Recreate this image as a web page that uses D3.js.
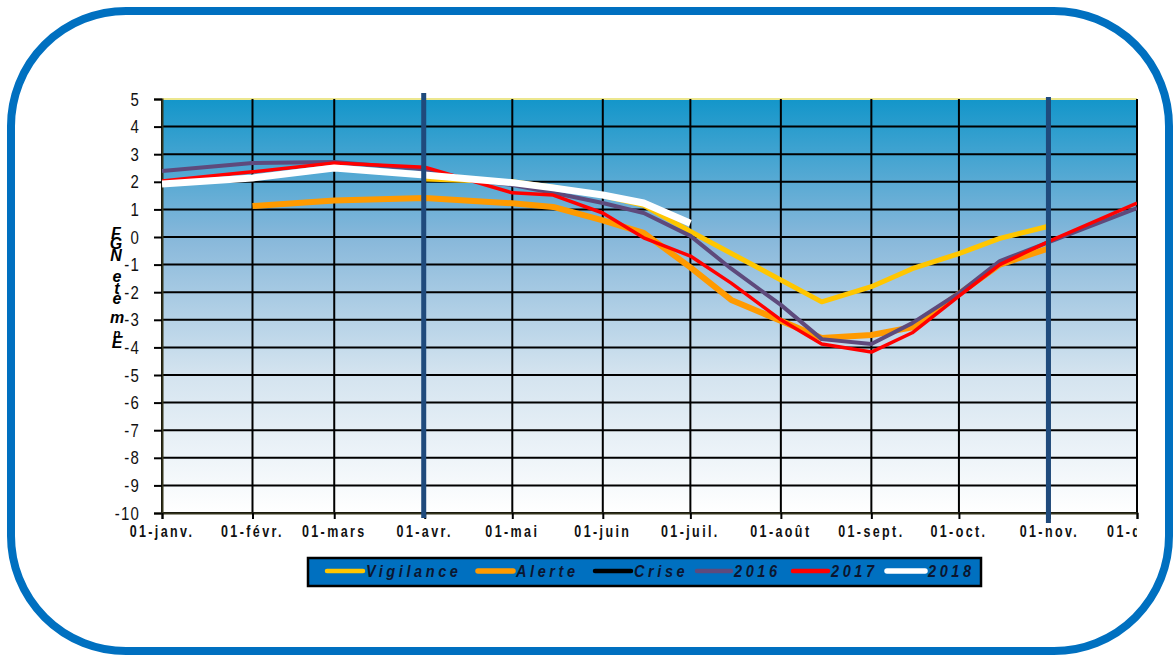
<!DOCTYPE html>
<html lang="fr">
<head>
<meta charset="UTF-8">
<script src="https://d3js.org/d3.v7.min.js"></script>
<title>Niveaux</title>
<style>
  body { margin: 0; background: #fff; }
  text { font-family: "Liberation Sans", Arial, sans-serif; }
</style>
</head>
<body>
<div id="container"></div>
<script>
// dates des mesures (année 2018, jour/mois)
var dates = ["01-01","02-01","03-01","04-01","04-15","05-01","05-15","06-01","06-15",
             "07-01","07-15","08-01","08-15","09-01","09-15","10-01","10-15","11-01","12-01"];

var vigilance = [null,null,null,2.1,null,2.0,1.8,1.5,1.15,0.2,null,null,-2.35,-1.8,-1.15,-0.6,-0.05,0.4,null];
var alerte    = [null,1.12,1.32,1.41,null,1.22,1.09,0.6,0.15,-1.1,-2.28,null,-3.66,-3.55,-3.27,null,-1.0,-0.4,null];
var crise     = [];
var s2016     = [2.39,2.68,2.72,2.45,2.1,1.88,1.6,1.23,0.87,0.04,-1.15,-2.46,-3.7,-3.88,-3.12,-2.03,-0.87,-0.18,1.05];
var s2017     = [2.03,2.36,2.68,2.53,null,1.6,1.52,0.87,-0.03,-0.69,-1.67,-3.0,-3.88,-4.17,-3.47,-2.14,-1.0,-0.15,1.23];
var s2018     = [1.92,2.14,2.5,2.25,null,1.97,1.78,1.52,1.23,0.5,null,null,null,null,null,null,null,null,null];

var monthTicks = ["01-01","02-01","03-01","04-01","05-01","06-01","07-01","08-01","09-01","10-01","11-01","12-01"];
var monthLabels = ["01-janv.","01-févr.","01-mars","01-avr.","01-mai","01-juin","01-juil.","01-août","01-sept.","01-oct.","01-nov.","01-déc."];
var yTicks = [5,4,3,2,1,0,-1,-2,-3,-4,-5,-6,-7,-8,-9,-10];
var markerDates = ["04-01","11-01"];
var yTitle = ["F","G","N","e","t","è","m","n","E"];

var series = [
  {name:"Vigilance", values:vigilance, color:"#ffc600", width:5},
  {name:"Alerte",    values:alerte,    color:"#ff9a00", width:6},
  {name:"Crise",     values:crise,     color:"#000000", width:4},
  {name:"2016",      values:s2016,     color:"#5e4a7c", width:4},
  {name:"2017",      values:s2017,     color:"#ff0000", width:3.5},
  {name:"2018",      values:s2018,     color:"#ffffff", width:7}
];

var width = 1173, height = 656;
var parse = d3.timeParse("%Y-%m-%d");
function dt(s){ return parse("2018-" + s); }

var svg = d3.select("#container").append("svg").attr("width", width).attr("height", height);

// cadre arrondi
svg.append("rect").attr("x",11).attr("y",11).attr("width",1158).attr("height",640)
   .attr("rx",115).attr("ry",115).attr("fill","#fff").attr("stroke","#0070c0").attr("stroke-width",8);

var x = d3.scaleTime().domain([dt("01-01"), dt("12-01")]).range([162, 1137]);
var y = d3.scaleLinear().domain([-10, 5]).range([513, 99]);

// dégradé du fond
var defs = svg.append("defs");
var grad = defs.append("linearGradient").attr("id","bg").attr("x1",0).attr("y1",0).attr("x2",0).attr("y2",1);
grad.append("stop").attr("offset","0%").attr("stop-color","#1396ca");
grad.append("stop").attr("offset","33%").attr("stop-color","#86b7da");
grad.append("stop").attr("offset","66%").attr("stop-color","#d3e3ef");
grad.append("stop").attr("offset","100%").attr("stop-color","#ffffff");

defs.append("clipPath").attr("id","plot").append("rect")
   .attr("x",162).attr("y",99).attr("width",975).attr("height",414);
defs.append("clipPath").attr("id","lab").append("rect")
   .attr("x",0).attr("y",515).attr("width",1137).attr("height",40);

svg.append("rect").attr("x",x.range()[0]).attr("y",y(5))
   .attr("width",x.range()[1]-x.range()[0]).attr("height",y(-10)-y(5)).attr("fill","url(#bg)");

// grille
svg.append("g").selectAll("line").data(yTicks).join("line")
   .attr("x1",x.range()[0]).attr("x2",x.range()[1])
   .attr("y1",d=>y(d)).attr("y2",d=>y(d))
   .attr("stroke",d=>d==5?"#ece78f":"#000").attr("stroke-width",2);
svg.append("g").selectAll("line").data(monthTicks).join("line")
   .attr("x1",d=>x(dt(d))).attr("x2",d=>x(dt(d)))
   .attr("y1",y(5)).attr("y2",y(-10)).attr("stroke","#000").attr("stroke-width",2);

// axes
var yAxis = svg.append("g").attr("transform","translate(162,0)")
   .call(d3.axisLeft(y).tickValues(yTicks).tickSize(8).tickFormat(""));
var xAxis = svg.append("g").attr("transform","translate(0,513)")
   .call(d3.axisBottom(x).tickValues(monthTicks.map(dt)).tickSize(6).tickFormat(""));
[yAxis, xAxis].forEach(function(a){
  a.select(".domain").attr("stroke","#34341c").attr("stroke-width",2);
  a.selectAll(".tick line").attr("stroke","#000").attr("stroke-width",2);
});

svg.append("g").selectAll("text").data(yTicks).join("text")
   .attr("transform",d=>"translate(140," + (y(d)+6.5) + ") scale(1,1.2)")
   .attr("text-anchor","end").attr("font-size",15).attr("letter-spacing",1.2)
   .attr("fill","#111").text(d=>d);

svg.append("g").attr("clip-path","url(#lab)").selectAll("text").data(monthTicks).join("text")
   .attr("transform",(d)=>"translate(" + x(dt(d)) + ",537) scale(1,1.25)")
   .attr("text-anchor","middle").attr("font-size",12.5).attr("font-weight","bold")
   .attr("letter-spacing",2.4).attr("fill","#111").text((d,i)=>monthLabels[i]);

// titre de l'axe y (lettres empilées, un seul texte)
var titleY = [234,244,256,277,289,299,318,333,343];
svg.append("text").attr("font-style","italic").attr("font-weight","bold").attr("fill","#000")
   .attr("text-anchor","middle")
   .selectAll("tspan").data(yTitle).join("tspan")
   .attr("x",(d,i)=>i<3?116:117).attr("y",(d,i)=>titleY[i]+5)
   .attr("font-size",(d,i)=>i==7?12:16).text(d=>d);

// séries
var line = d3.line().x(d=>x(d.date)).y(d=>y(d.value));
var lines = svg.append("g").attr("clip-path","url(#plot)");
series.forEach(function(s){
  var pts = dates.map((d,i)=>({date:dt(d), value:s.values[i]}))
                 .filter(p=>p.value!=null && p.value!==undefined);
  if (pts.length < 2) return;
  lines.append("path").datum(pts).attr("fill","none")
     .attr("stroke",s.color).attr("stroke-width",s.width)
     .attr("stroke-linejoin","round").attr("d",line);
});

// traits verticaux bleus
svg.append("g").selectAll("line").data(markerDates).join("line")
   .attr("x1",d=>x(dt(d))-1).attr("x2",d=>x(dt(d))-1)
   .attr("y1",(d,i)=>i==0?93:97).attr("y2",(d,i)=>i==0?518:523)
   .attr("stroke","#1f4a7c").attr("stroke-width",5);

// légende
var lg = svg.append("g");
lg.append("rect").attr("x",308).attr("y",558).attr("width",673).attr("height",28)
  .attr("fill","#0070c0").attr("stroke","#000").attr("stroke-width",2.5);
var legX = [327,478,595,697,793,887];
var legW = [36,35,36,34,35,38];
series.forEach(function(s,i){
  lg.append("line").attr("x1",legX[i]).attr("x2",legX[i]+legW[i]).attr("y1",571).attr("y2",571)
    .attr("stroke",s.color).attr("stroke-width",s.width>5?5.5:4.5).attr("stroke-linecap","round");
  lg.append("text").attr("transform","translate(" + (legX[i]+legW[i]+3) + ",577) scale(1,1.2)")
    .attr("font-size",14.5).attr("font-weight","bold").attr("font-style","italic")
    .attr("letter-spacing",3.6).attr("fill","#0b1630").text(s.name);
});
</script>
</body>
</html>
